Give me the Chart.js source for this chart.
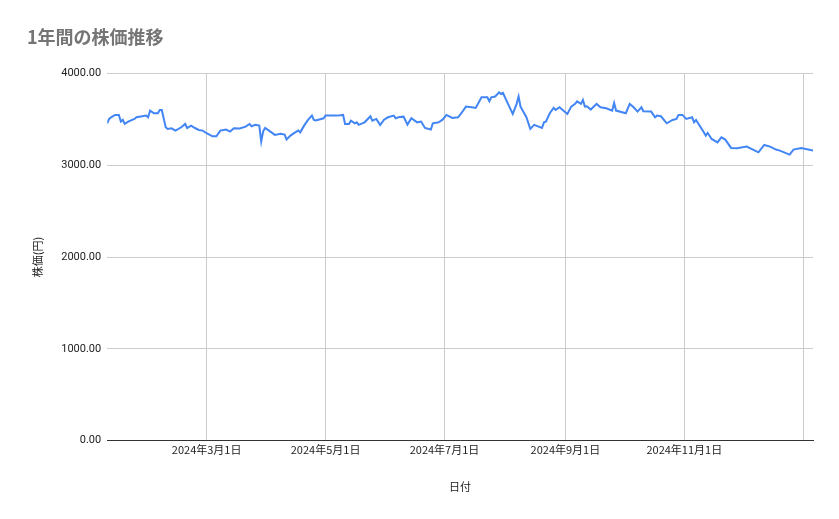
<!DOCTYPE html>
<html>
<head>
<meta charset="utf-8">
<script src="https://cdn.jsdelivr.net/npm/chart.js@4"></script>
<style>
  body { margin: 0; background: #fff; }
  #wrap { width: 839px; height: 519px; }
</style>
</head>
<body>
<div id="wrap"><canvas id="stockChart"></canvas></div>
<script>
const dates = ['2024-01-10','2024-01-11','2024-01-12','2024-01-14','2024-01-16','2024-01-17','2024-01-18','2024-01-19','2024-01-21','2024-01-24',
  '2024-01-25','2024-01-28','2024-01-30','2024-01-31','2024-02-01','2024-02-03','2024-02-05','2024-02-06','2024-02-07','2024-02-09',
  '2024-02-10','2024-02-12','2024-02-14','2024-02-17','2024-02-19','2024-02-20','2024-02-22','2024-02-24','2024-02-26','2024-02-28',
  '2024-03-01','2024-03-04','2024-03-06','2024-03-08','2024-03-11','2024-03-13','2024-03-15','2024-03-18','2024-03-21','2024-03-23',
  '2024-03-24','2024-03-26','2024-03-28','2024-03-29','2024-03-30','2024-03-31','2024-04-02','2024-04-05','2024-04-08','2024-04-10',
  '2024-04-11','2024-04-13','2024-04-15','2024-04-17','2024-04-18','2024-04-20','2024-04-22','2024-04-24','2024-04-25','2024-04-26',
  '2024-04-30','2024-05-01','2024-05-07','2024-05-10','2024-05-11','2024-05-13','2024-05-14','2024-05-16','2024-05-17','2024-05-18',
  '2024-05-21','2024-05-24','2024-05-25','2024-05-27','2024-05-29','2024-05-31','2024-06-02','2024-06-05','2024-06-06','2024-06-08',
  '2024-06-10','2024-06-12','2024-06-14','2024-06-17','2024-06-19','2024-06-21','2024-06-24','2024-06-25','2024-06-28','2024-06-30',
  '2024-07-02','2024-07-05','2024-07-08','2024-07-10','2024-07-12','2024-07-15','2024-07-17','2024-07-20','2024-07-23','2024-07-24',
  '2024-07-25','2024-07-27','2024-07-29','2024-07-30','2024-07-31','2024-08-03','2024-08-05','2024-08-07','2024-08-08','2024-08-09',
  '2024-08-12','2024-08-14','2024-08-16','2024-08-20','2024-08-21','2024-08-22','2024-08-24','2024-08-26','2024-08-27','2024-08-29',
  '2024-09-02','2024-09-04','2024-09-06','2024-09-07','2024-09-09','2024-09-10','2024-09-11','2024-09-12','2024-09-14','2024-09-17',
  '2024-09-19','2024-09-22','2024-09-25','2024-09-26','2024-09-27','2024-10-02','2024-10-04','2024-10-06','2024-10-08','2024-10-10',
  '2024-10-11','2024-10-15','2024-10-17','2024-10-18','2024-10-20','2024-10-23','2024-10-26','2024-10-28','2024-10-29','2024-10-31',
  '2024-11-02','2024-11-05','2024-11-06','2024-11-07','2024-11-11','2024-11-12','2024-11-13','2024-11-15','2024-11-18','2024-11-20',
  '2024-11-22','2024-11-25','2024-11-28','2024-12-03','2024-12-09','2024-12-12','2024-12-15','2024-12-18','2024-12-20','2024-12-25',
  '2024-12-27','2024-12-31','2025-01-06'];

const prices = [3458,3506,3524,3550,3550,3477,3495,3452,3480,3506,
  3524,3535,3542,3524,3597,3568,3568,3604,3604,3415,
  3397,3404,3379,3415,3451,3407,3433,3407,3386,3379,
  3350,3317,3317,3379,3390,3368,3404,3401,3422,3451,
  3426,3441,3433,3259,3371,3407,3379,3332,3343,3335,
  3281,3324,3353,3379,3360,3433,3495,3542,3495,3488,
  3513,3542,3542,3550,3451,3451,3488,3458,3469,3441,
  3469,3535,3488,3506,3441,3498,3524,3542,3513,3528,
  3531,3444,3513,3469,3477,3407,3390,3458,3469,3498,
  3550,3517,3524,3579,3640,3633,3626,3742,3742,3698,
  3742,3750,3796,3778,3789,3651,3560,3670,3750,3640,
  3524,3397,3441,3407,3469,3477,3568,3626,3604,3633,
  3560,3640,3670,3698,3670,3713,3640,3644,3608,3670,
  3633,3622,3597,3680,3597,3568,3670,3633,3586,3633,
  3589,3586,3524,3542,3535,3458,3495,3506,3550,3550,
  3506,3524,3469,3495,3360,3324,3353,3288,3251,3306,
  3281,3190,3187,3204,3142,3222,3204,3172,3161,3117,
  3172,3190,3161];

const tickDates = ['2024-03-01','2024-05-01','2024-07-01','2024-09-01','2024-11-01','2025-01-01'];
const tickLabels = ['2024年3月1日','2024年5月1日','2024年7月1日','2024年9月1日','2024年11月1日',''];

const base = Date.parse('2024-01-01');
const dayOf = s => (Date.parse(s) - base) / 86400000;

const points = dates.map((d, i) => ({ x: dayOf(d), y: prices[i] }));
const tickDays = tickDates.map(dayOf);

Chart.defaults.font.family = "Roboto, 'Noto Sans CJK JP', sans-serif";
Chart.defaults.color = '#222';

new Chart(document.getElementById('stockChart'), {
  type: 'line',
  data: {
    datasets: [{
      label: '株価',
      data: points,
      borderColor: '#4285f4',
      borderWidth: 2,
      pointRadius: 0,
      tension: 0
    }]
  },
  options: {
    responsive: true,
    maintainAspectRatio: false,
    animation: false,
    layout: { padding: { left: 27, right: 26, top: 10, bottom: 22 } },
    plugins: {
      legend: { display: false },
      tooltip: { enabled: false },
      title: {
        display: true,
        text: '1年間の株価推移',
        align: 'start',
        color: '#757575',
        font: { size: 18, family: "'Noto Sans CJK JP', sans-serif" },
        padding: { top: 16, bottom: 26 }
      }
    },
    scales: {
      x: {
        type: 'linear',
        min: dayOf('2024-01-10'),
        max: dayOf('2025-01-06'),
        afterBuildTicks: axis => { axis.ticks = tickDays.map(v => ({ value: v })); },
        ticks: {
          autoSkip: false,
          maxRotation: 0,
          font: { size: 11, family: "'Noto Sans CJK JP', sans-serif" },
          callback: (v, i) => tickLabels[i]
        },
        grid: { color: '#cccccc', drawTicks: false },
        border: { color: '#333333' },
        title: {
          display: true,
          text: '日付',
          font: { size: 11, family: "'Noto Sans CJK JP', sans-serif" },
          padding: { top: 20 }
        }
      },
      y: {
        min: 0,
        max: 4000,
        ticks: {
          stepSize: 1000,
          padding: 6,
          font: { size: 11 },
          callback: v => v.toFixed(2)
        },
        grid: { color: '#cccccc', drawTicks: false },
        border: { display: false },
        title: {
          display: true,
          text: '株価(円)',
          font: { size: 11, family: "'Noto Sans CJK JP', sans-serif" },
          padding: { bottom: 11 }
        }
      }
    }
  }
});
</script>
</body>
</html>
